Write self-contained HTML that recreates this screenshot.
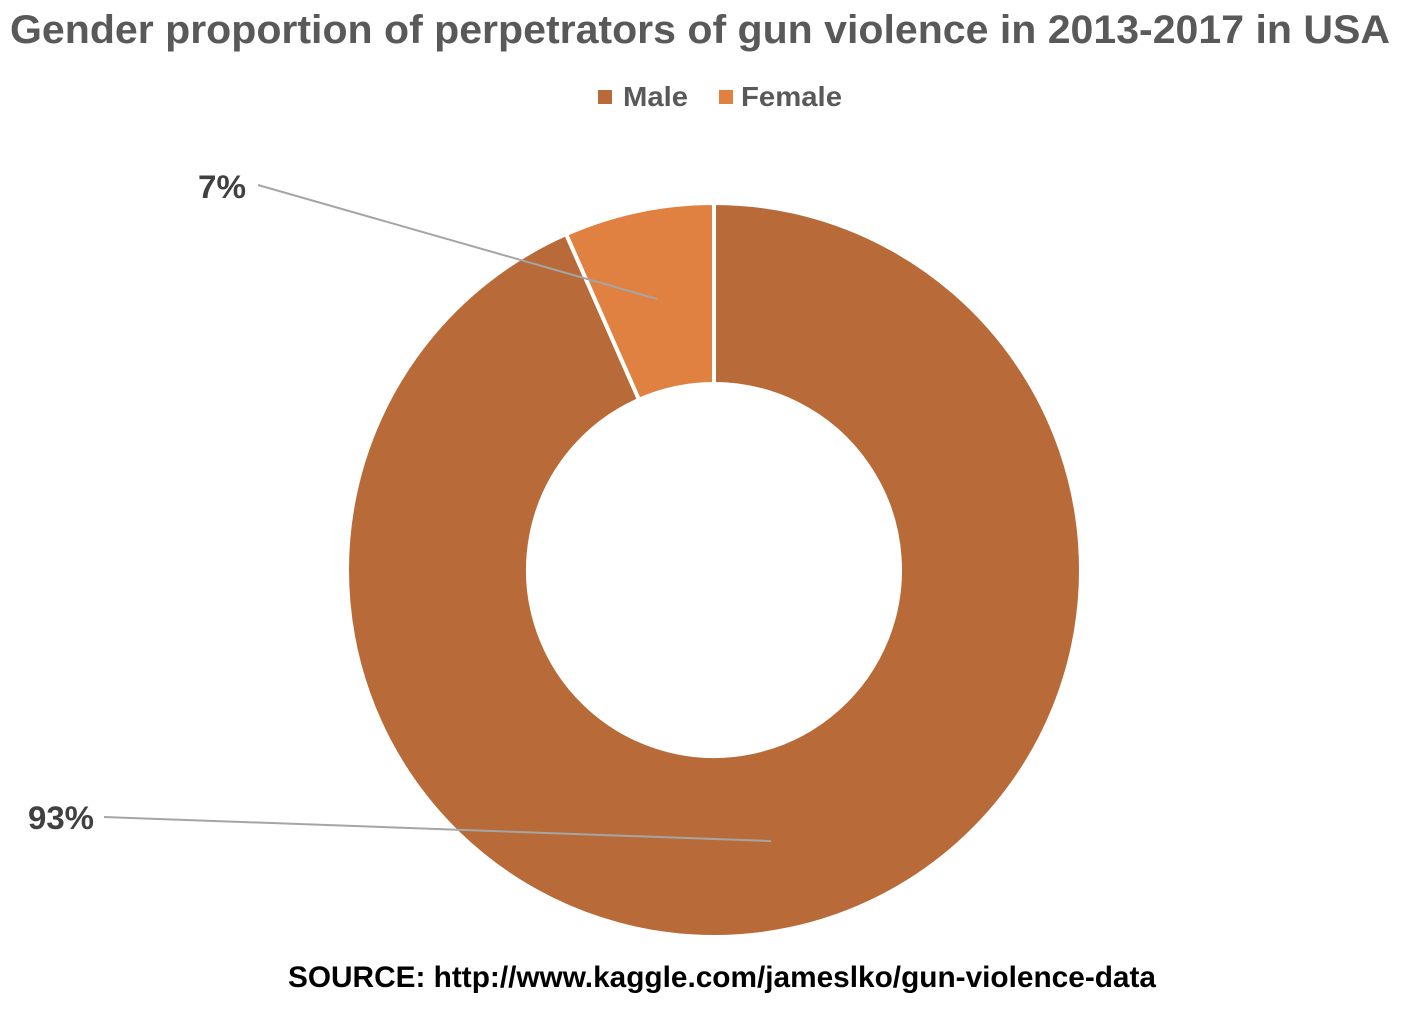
<!DOCTYPE html>
<html><head><meta charset="utf-8"><style>
html,body{margin:0;padding:0;background:#fff;}
svg{display:block;}
</style></head><body>
<svg id="chart" width="1410" height="1010" viewBox="0 0 1410 1010" font-family="'Liberation Sans Narrow','Liberation Sans',sans-serif" font-weight="bold">
  <text x="10" y="43" font-size="40" fill="#595959" textLength="1380" lengthAdjust="spacingAndGlyphs">Gender proportion of perpetrators of gun violence in 2013-2017 in USA</text>
  <g>
    <rect x="598" y="90" width="14" height="14" fill="#B86B38"/>
    <text x="623" y="106" font-size="28" fill="#595959" textLength="65" lengthAdjust="spacingAndGlyphs">Male</text>
    <rect x="719" y="90" width="14" height="14" fill="#E08142"/>
    <text x="741" y="106" font-size="28" fill="#595959" textLength="101" lengthAdjust="spacingAndGlyphs">Female</text>
  </g>
  <g id="slices"></g>
  <g id="labels"></g>
  <text x="288" y="987" font-size="30" fill="#000" textLength="868" lengthAdjust="spacingAndGlyphs">SOURCE: http://www.kaggle.com/jameslko/gun-violence-data</text>
</svg>
<script>
const categories = ["Male", "Female"];
const values = [93.4, 6.6];
const labels = ["93%", "7%"];
const colors = ["#B86B38", "#E08142"];
const cx = 714, cy = 570, R = 367, r = 186;
const NS = "http://www.w3.org/2000/svg";
const total = values.reduce((a,b)=>a+b,0);
function pt(rad, ang){ return [cx + rad*Math.sin(ang), cy - rad*Math.cos(ang)]; }
const g = document.getElementById('slices');
const lg = document.getElementById('labels');
const labelPos = [[28,829,104,817,66],[198,198,258,185,48]];
let a0 = 0;
values.forEach((v,i)=>{
  const a1 = a0 + v/total*2*Math.PI;
  const large = (a1-a0) > Math.PI ? 1 : 0;
  const [x0,y0]=pt(R,a0),[x1,y1]=pt(R,a1),[x2,y2]=pt(r,a1),[x3,y3]=pt(r,a0);
  const p = document.createElementNS(NS,'path');
  p.setAttribute('d',`M${x0},${y0}A${R},${R} 0 ${large} 1 ${x1},${y1}L${x2},${y2}A${r},${r} 0 ${large} 0 ${x3},${y3}Z`);
  p.setAttribute('fill',colors[i]);
  p.setAttribute('stroke','#fff');
  p.setAttribute('stroke-width','4');
  
  
  g.appendChild(p);
  const mid = (a0+a1)/2;
  const [mx,my] = pt(277, mid);
  const lp = labelPos[i];
  const ln = document.createElementNS(NS,'line');
  ln.setAttribute('x1',lp[2]); ln.setAttribute('y1',lp[3]);
  ln.setAttribute('x2',mx); ln.setAttribute('y2',my);
  ln.setAttribute('stroke','#A5A5A5'); ln.setAttribute('stroke-width','2');
  
  
  lg.appendChild(ln);
  const t = document.createElementNS(NS,'text');
  t.setAttribute('x',lp[0]); t.setAttribute('y',lp[1]);
  t.setAttribute('font-size','32'); t.setAttribute('fill','#404040');
  t.setAttribute('font-family',"'Liberation Sans',sans-serif");
  t.setAttribute('textLength',lp[4]); t.setAttribute('lengthAdjust','spacingAndGlyphs');
  t.textContent = labels[i];
  
  
  lg.appendChild(t);
  a0 = a1;
});
</script>
</body></html>
